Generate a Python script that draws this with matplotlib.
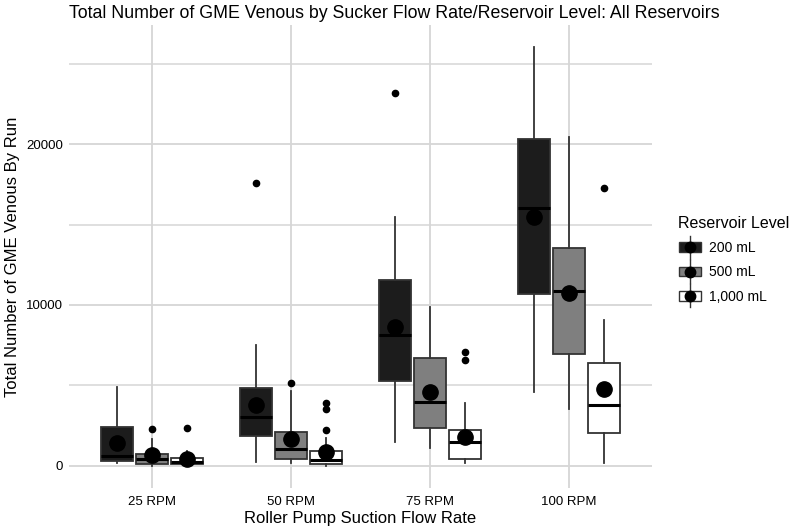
import matplotlib
matplotlib.use('Agg')
import matplotlib.pyplot as plt
from matplotlib.legend_handler import HandlerBase
from matplotlib.patches import Rectangle
from matplotlib.lines import Line2D

plt.rcParams['font.family'] = ['Liberation Sans', 'DejaVu Sans']

categories = ['25 RPM', '50 RPM', '75 RPM', '100 RPM']
levels = ['200 mL', '500 mL', '1,000 mL']
fills = ['#1c1c1c', '#7f7f7f', '#ffffff']

whislo_200 = [150, 210, 1500, 4600]
q1_200 = [300, 1850, 5290, 10680]
med_200 = [610, 3030, 8110, 16040]
q3_200 = [2430, 4850, 11560, 20350]
whishi_200 = [4880, 7510, 15460, 26070]
mean_200 = [1430, 3780, 8610, 15460]
fliers_200 = [[], [17610], [23210], []]

whislo_500 = [0, 150, 1120, 3530]
q1_500 = [90, 440, 2350, 6950]
med_500 = [440, 1060, 3950, 10890]
q3_500 = [750, 2120, 6720, 13530]
whishi_500 = [1640, 4650, 9860, 20470]
mean_500 = [650, 1640, 4570, 10730]
fliers_500 = [[2280], [5170], [], []]

whislo_1000 = [0, 0, 150, 190]
q1_1000 = [90, 90, 440, 2050]
med_1000 = [250, 350, 1480, 3800]
q3_1000 = [460, 900, 2200, 6410]
whishi_1000 = [930, 1700, 3880, 9070]
mean_1000 = [420, 830, 1810, 4790]
fliers_1000 = [[2360], [3880, 3550, 2200], [7100, 6580], [17280]]

series = [
    (whislo_200, q1_200, med_200, q3_200, whishi_200, mean_200, fliers_200),
    (whislo_500, q1_500, med_500, q3_500, whishi_500, mean_500, fliers_500),
    (whislo_1000, q1_1000, med_1000, q3_1000, whishi_1000, mean_1000, fliers_1000),
]

edge = '#333333'
fig = plt.figure(figsize=(7.94, 5.30), dpi=100)
ax = fig.add_axes([68.6/794, 1-488/530, (652.4-68.6)/794, (488-25)/530])

dodge = 0.25
bw = 0.23
for k, (wl, a, m, b, wh, mn, fl) in enumerate(series):
    stats = []
    for i in range(len(categories)):
        stats.append(dict(whislo=wl[i], q1=a[i], med=m[i], q3=b[i], whishi=wh[i],
                          mean=mn[i], fliers=fl[i]))
    pos = [i + 1 + (k - 1) * dodge for i in range(len(categories))]
    ax.bxp(stats, positions=pos, widths=bw, showcaps=False, showmeans=True,
           patch_artist=True, manage_ticks=False,
           boxprops=dict(facecolor=fills[k], edgecolor=edge, linewidth=1.3),
           whiskerprops=dict(color=edge, linewidth=1.3),
           medianprops=dict(color='black', linewidth=2.2),
           meanprops=dict(marker='o', markerfacecolor='black', markeredgecolor='black',
                          markersize=11),
           flierprops=dict(marker='o', markerfacecolor='black', markeredgecolor='black',
                           markersize=4.5),
           zorder=3)

ax.set_xlim(0.4, 4.6)
ax.set_ylim(-1390, 27420)
ax.set_xticks(range(1, len(categories) + 1))
ax.set_xticklabels(categories)
ax.set_yticks([0, 10000, 20000])
ax.set_yticks([5000, 15000, 25000], minor=True)
ax.grid(True, which='major', color='#d6d6d6', linewidth=1.3)
ax.grid(True, which='minor', axis='y', color='#d6d6d6', linewidth=1.1)
ax.set_axisbelow(True)
for s in ax.spines.values():
    s.set_visible(False)
ax.tick_params(which='both', length=0, labelsize=9.5, colors='black', pad=4)
ax.tick_params(axis='x', pad=6)
ax.set_xlabel('Roller Pump Suction Flow Rate', fontsize=12, labelpad=2)
ax.set_ylabel('Total Number of GME Venous By Run', fontsize=12, labelpad=4)
fig.suptitle('Total Number of GME Venous by Sucker Flow Rate/Reservoir Level: All Reservoirs',
             x=0.0864, y=0.99, ha='left', fontsize=12.8)


class BoxHandler(HandlerBase):
    def __init__(self, fill):
        super().__init__()
        self.fill = fill

    def create_artists(self, legend, orig_handle, xdescent, ydescent, width, height,
                       fontsize, trans):
        cx = -xdescent + width / 2
        cy = -ydescent + height / 2
        rw, rh = width, height * 0.85
        r = Rectangle((cx - rw / 2, cy - rh / 2), rw, rh, facecolor=self.fill,
                      edgecolor=edge, linewidth=1.0, transform=trans)
        ln = Line2D([cx, cx], [cy - height * 1.0, cy + height * 1.0], color=edge,
                    linewidth=1.0, transform=trans)
        dot = Line2D([cx], [cy], marker='o', markersize=7.5, color='black',
                     linestyle='none', transform=trans)
        return [ln, r, dot]


handles = [Rectangle((0, 0), 1, 1, label=l) for l in levels]
hmap = {h: BoxHandler(f) for h, f in zip(handles, fills)}
leg = fig.legend(handles=handles, labels=levels, handler_map=hmap,
                 loc='upper left', bbox_to_anchor=(666/794, 1-203/530),
                 frameon=False, title='Reservoir Level', title_fontsize=11.5,
                 fontsize=10, handlelength=1.6, handleheight=0.9, labelspacing=0.75,
                 handletextpad=0.6, alignment='left')

fig.savefig('out.png', dpi=100)
